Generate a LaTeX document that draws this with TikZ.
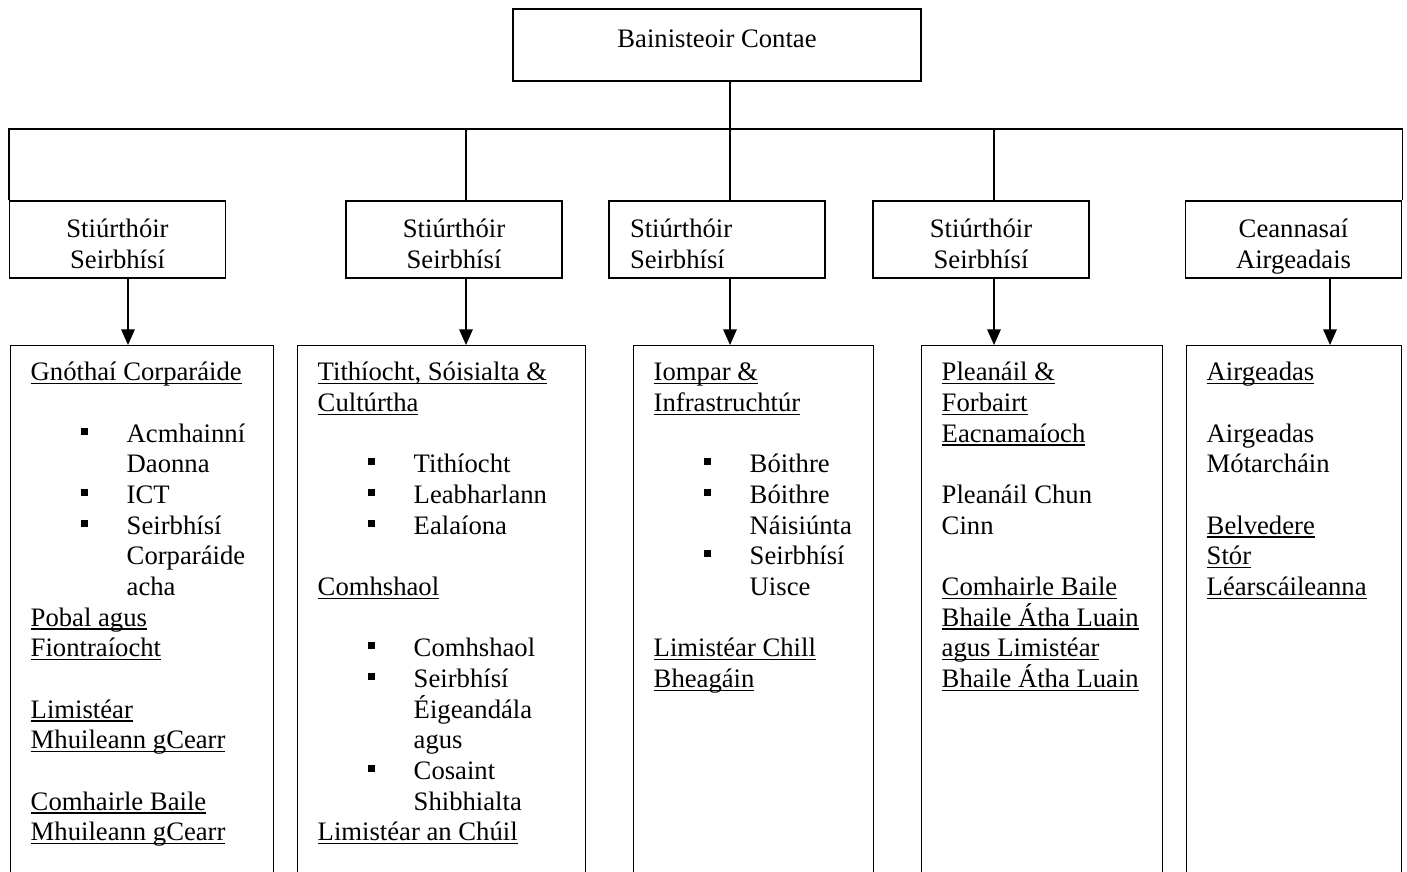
\documentclass[tikz,border=0pt]{standalone}
\usepackage{fontspec}
\setmainfont{Liberation Serif}
\usetikzlibrary{arrows.meta}
\newlength{\pxu}
\setlength{\pxu}{0.45pt}
\newsavebox{\ulbox}
\newcommand{\undl}[1]{\leavevmode\sbox{\ulbox}{#1}\rlap{\rule[-1.6pt]{\wd\ulbox}{0.55pt}}\usebox{\ulbox}}
\newcommand{\itm}[1]{\hspace*{22.5pt}\makebox[20.7pt][l]{\rule[3.3pt]{3.3pt}{3.2pt}}#1}
\newcommand{\cnt}[1]{\hspace*{43.2pt}#1}
\newcommand{\unitpar}[2]{\parbox[t][540\pxu][t]{#1}{\raggedright\strut#2}}

\tikzset{
  txt/.style={font=\fontsize{12}{13.8}\selectfont},
  ceobox/.style={txt, draw, line width=0.65pt, minimum width=408\pxu, minimum height=72\pxu, text height=9pt, text depth=7pt},
  dirbox/.style={txt, draw, line width=0.65pt, minimum width=216\pxu, minimum height=77\pxu, align=center, text height=26.16pt, text depth=0pt},
  unitbox/.style={txt, draw, line width=0.65pt, anchor=north west, inner xsep=20\pxu, inner ysep=13.5\pxu},
  link/.style={line width=0.65pt},
  feed/.style={line width=0.8pt, -{Triangle[length=7pt,width=6pt]}}
}

\begin{document}
\begin{tikzpicture}[x=0.45pt, y=-0.45pt]
\clip (0,0) rectangle (1407,872);

\node[ceobox] (ceo) at (717,45) {Bainisteoir Contae};

\node[dirbox] (dir1) at (117.5,239.5) {Stiúrthóir\\Seirbhísí};
\node[dirbox] (dir2) at (454,239.5) {Stiúrthóir\\Seirbhísí};
\node[dirbox, align=left, text width=174\pxu, inner xsep=21\pxu, text height=9.66pt, text depth=11.1pt] (dir3) at (717,239.5) {Stiúrthóir\\Seirbhísí};
\node[dirbox] (dir4) at (981,239.5) {Stiúrthóir\\Seirbhísí};
\node[dirbox] (dir5) at (1293.5,239.5) {Ceannasaí\\Airgeadais};

\node[unitbox] (corp) at (10,345) {\unitpar{223\pxu}{%
\undl{Gnóthaí Corparáide}\\
\mbox{}\\
\itm{Acmhainní}\\
\cnt{Daonna}\\
\itm{ICT}\\
\itm{Seirbhísí}\\
\cnt{Corparáide}\\
\cnt{acha}\\
\undl{Pobal agus}\\
\undl{Fiontraíocht}\\
\mbox{}\\
\undl{Limistéar}\\
\undl{Mhuileann gCearr}\\
\mbox{}\\
\undl{Comhairle Baile}\\
\undl{Mhuileann gCearr}}};

\node[unitbox] (cult) at (297,345) {\unitpar{248\pxu}{%
\undl{Tithíocht, Sóisialta \&}\\
\undl{Cultúrtha}\\
\mbox{}\\
\itm{Tithíocht}\\
\itm{Leabharlann}\\
\itm{Ealaíona}\\
\mbox{}\\
\undl{Comhshaol}\\
\mbox{}\\
\itm{Comhshaol}\\
\itm{Seirbhísí}\\
\cnt{Éigeandála}\\
\cnt{agus}\\
\itm{Cosaint}\\
\cnt{Shibhialta}\\
\undl{Limistéar an Chúil}}};

\node[unitbox] (infra) at (633,345) {\unitpar{200\pxu}{%
\undl{Iompar \&}\\
\undl{Infrastruchtúr}\\
\mbox{}\\
\itm{Bóithre}\\
\itm{Bóithre}\\
\cnt{Náisiúnta}\\
\itm{Seirbhísí}\\
\cnt{Uisce}\\
\mbox{}\\
\undl{Limistéar Chill}\\
\undl{Bheagáin}}};

\node[unitbox] (plan) at (921,345) {\unitpar{201\pxu}{%
\undl{Pleanáil \&}\\
\undl{Forbairt}\\
\undl{Eacnamaíoch}\\
\mbox{}\\
Pleanáil Chun\\
Cinn\\
\mbox{}\\
\undl{Comhairle Baile}\\
\undl{Bhaile Átha Luain}\\
\undl{agus Limistéar}\\
\undl{Bhaile Átha Luain}}};

\node[unitbox] (fin) at (1186,345) {\unitpar{175\pxu}{%
\undl{Airgeadas}\\
\mbox{}\\
Airgeadas\\
Mótarcháin\\
\mbox{}\\
\undl{Belvedere}\\
\undl{Stór}\\
\undl{Léarscáileanna}}};

% bus under the county manager
\coordinate (bus) at (730,129);
\draw[link] (ceo.south -| bus) -- (bus);
\draw[link] (dir1.north west) |- (bus) -| (dir5.north east);
\draw[link] ([xshift=12\pxu]dir2.north) -- ([xshift=12\pxu]dir2.north |- bus);
\draw[link] (bus) -- (bus |- dir3.north);
\draw[link] ([xshift=13\pxu]dir4.north) -- ([xshift=13\pxu]dir4.north |- bus);

\foreach \src/\dst/\dx in {dir1/corp/10.5, dir2/cult/12, dir3/infra/13, dir4/plan/13, dir5/fin/36.5}
  \draw[feed] ([xshift=\dx\pxu]\src.south) -- ([xshift=\dx\pxu]\src.south |- \dst.north);
\end{tikzpicture}
\end{document}
